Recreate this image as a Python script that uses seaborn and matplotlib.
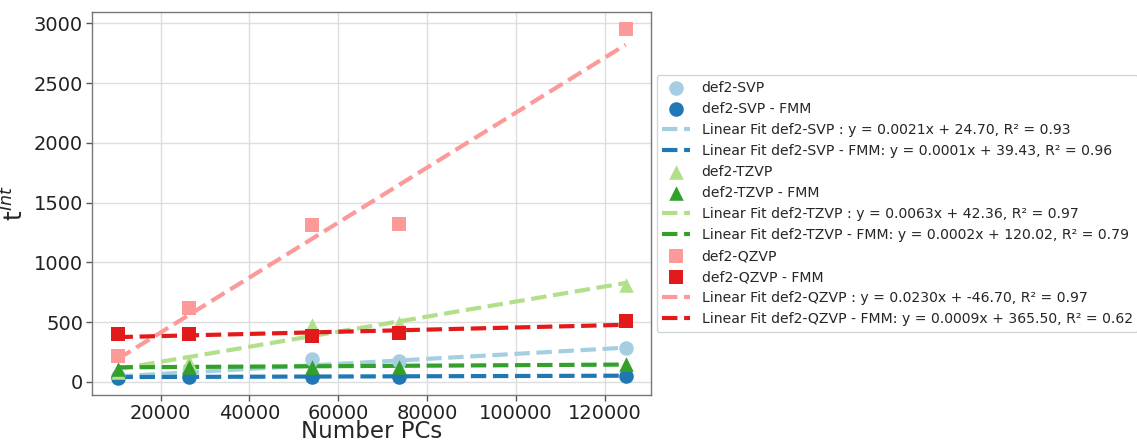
import numpy as np
import pandas as pd
import matplotlib
matplotlib.use("Agg")
import matplotlib.pyplot as plt
import seaborn as sns

# Data
num_pcs = [10300, 26300, 54200, 73600, 124700]

svp = [50, 75, 195, 172, 285]
svp_fmm = [36, 38, 40, 42, 50]
tzvp = [85, 165, 475, 495, 810]
tzvp_fmm = [112, 128, 122, 128, 147]
qzvp = [218, 622, 1310, 1320, 2950]
qzvp_fmm = [403, 398, 386, 410, 510]

# Fit parameters as printed in the legend
fit_slopes = [0.0021, 0.0001, 0.0063, 0.0002, 0.0230, 0.0009]
fit_intercepts = [24.70, 39.43, 42.36, 120.02, -46.70, 365.50]
fit_r2 = [0.93, 0.96, 0.97, 0.79, 0.97, 0.62]

bases = ["def2-SVP", "def2-TZVP", "def2-QZVP"]
markers = ["o", "^", "s"]
colors = sns.color_palette("Paired", 6)

series = [svp, svp_fmm, tzvp, tzvp_fmm, qzvp, qzvp_fmm]

sns.set_style("whitegrid")
plt.rcParams["font.family"] = ["DejaVu Sans"]

fig = plt.figure(figsize=(11.37, 4.42), dpi=100)
ax = fig.add_axes([0.081, 0.1063, 0.4916, 0.8667])

for i, base in enumerate(bases):
    for j, suffix in enumerate(["", " - FMM"]):
        k = 2 * i + j
        sns.scatterplot(x=num_pcs, y=series[k], ax=ax, marker=markers[i],
                        color=colors[k], s=110, linewidth=0,
                        label=f"{base}{suffix}", zorder=3)
    for j, suffix in enumerate([" ", " - FMM"]):
        k = 2 * i + j
        xs = np.array([min(num_pcs), max(num_pcs)], dtype=float)
        ys = fit_slopes[k] * xs + fit_intercepts[k]
        lab = (f"Linear Fit {base}{suffix}: y = {fit_slopes[k]:.4f}x + "
               f"{fit_intercepts[k]:.2f}, R\u00b2 = {fit_r2[k]:.2f}")
        sns.lineplot(x=xs, y=ys, ax=ax, color=colors[k], linestyle="--",
                     linewidth=3, label=lab, zorder=2)

ax.set_xlabel("Number PCs", fontsize=16.5)
ax.set_ylabel(r"t$^{Int}$", fontsize=18)
ax.xaxis.set_label_coords(0.5, -0.064)
ax.yaxis.set_label_coords(-0.113, 0.5)
ax.tick_params(axis="both", labelsize=14, length=4, width=1, pad=2.5,
               color="#555555", left=True, bottom=True, labelcolor="#222222")
ax.set_yticks([0, 500, 1000, 1500, 2000, 2500, 3000])
ax.set_xticks([20000, 40000, 60000, 80000, 100000, 120000])
for sp in ax.spines.values():
    sp.set_color("#777777")
    sp.set_linewidth(1.0)
ax.grid(True, color="#dddddd", linewidth=1)

ax.legend(loc="center left", bbox_to_anchor=(1.01, 0.5), borderaxespad=0,
          fontsize=10.1, frameon=True, edgecolor="#cccccc", fancybox=True)

fig.savefig("out.png", dpi=100)
